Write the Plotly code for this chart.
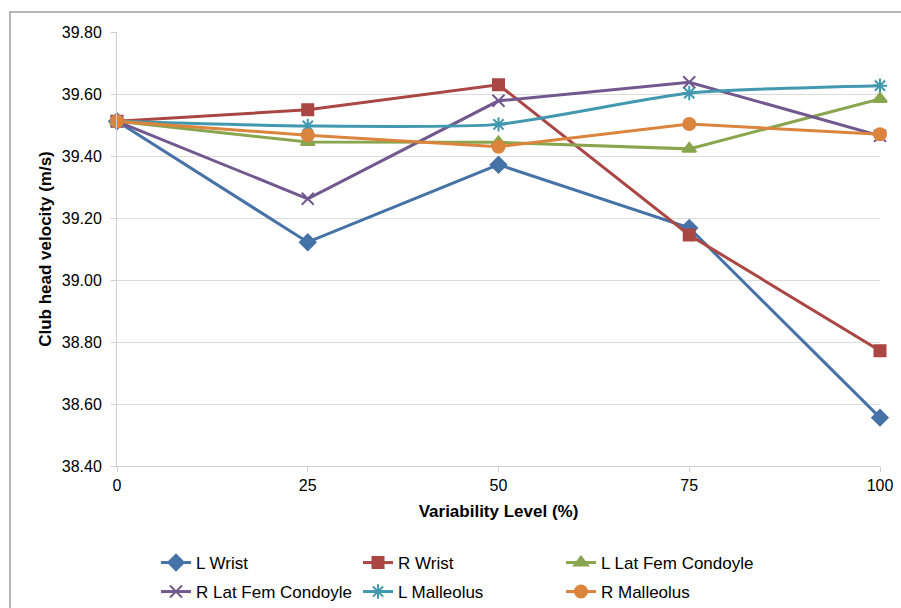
import plotly.graph_objects as go

levels = [0, 25, 50, 75, 100]
l_wrist = [39.512, 39.122, 39.372, 39.168, 38.556]
r_wrist = [39.512, 39.549, 39.630, 39.145, 38.772]
l_lat_fem = [39.512, 39.445, 39.444, 39.423, 39.584]
r_lat_fem = [39.512, 39.262, 39.578, 39.638, 39.465]
l_malleolus = [39.512, 39.497, 39.502, 39.603, 39.627]
r_malleolus = [39.512, 39.467, 39.430, 39.503, 39.470]

series = [
    ("L Wrist", l_wrist, "#4572A7", "diamond", 12, "linear"),
    ("R Wrist", r_wrist, "#AA4643", "square", 11, "linear"),
    ("L Lat Fem Condoyle", l_lat_fem, "#89A54E", "triangle-up", 12, "linear"),
    ("R Lat Fem Condoyle", r_lat_fem, "#71588F", "x-thin-open", 12, "linear"),
    ("L Malleolus", l_malleolus, "#4198AF", "asterisk-open", 12, "spline"),
    ("R Malleolus", r_malleolus, "#DB843D", "circle", 12, "linear"),
]

W, H = 901, 608
L, R, T, B = 117, 21, 32, 142
pw, ph = W - L - R, H - T - B

def px_x(p):
    return (p - L) / pw

def px_y(p):
    return (H - B - p) / ph

font = "Liberation Sans, Arial, sans-serif"

# legend slot positions (pixel left edge, pixel row centre)
legend_slots = [(156, 563), (358, 563), (561, 563),
                (156, 592), (358, 592), (561, 592)]

fig = go.Figure()
legend_layout = {}
for i, (name, vals, color, sym, size, shape) in enumerate(series):
    key = "legend" if i == 0 else f"legend{i+1}"
    fig.add_trace(go.Scatter(
        x=levels, y=vals, name=name, mode="lines+markers",
        line=dict(color=color, width=3, shape=shape, smoothing=0.6),
        marker=dict(symbol=sym, size=size, color=color,
                    line=dict(color=color, width=2)),
        cliponaxis=False, legend=key,
    ))
    lx, ly = legend_slots[i]
    legend_layout[key] = dict(
        x=px_x(lx), y=px_y(ly), xanchor="left", yanchor="middle",
        orientation="h", itemwidth=30, bgcolor="rgba(0,0,0,0)",
        font=dict(size=17, family=font, color="#000000"),
    )

fig.add_shape(type="rect", xref="paper", yref="paper",
              x0=px_x(10), x1=px_x(910), y0=px_y(620), y1=px_y(12),
              line=dict(color="#A0A0A0", width=1.5), fillcolor="rgba(0,0,0,0)",
              layer="below")

fig.update_layout(
    width=W, height=H,
    margin=dict(l=L, r=R, t=T, b=B, autoexpand=False),
    paper_bgcolor="white", plot_bgcolor="white",
    font=dict(family=font, size=16, color="#000000"),
    showlegend=True,
    xaxis=dict(
        range=[0, 100], tickvals=levels, ticktext=[str(v) for v in levels],
        showgrid=False, showline=True, linecolor="#D0D0D0", linewidth=1,
        ticks="outside", ticklen=5, tickcolor="#D0D0D0",
        tickfont=dict(size=16), zeroline=False,
        title=dict(text="<b>Variability Level (%)</b>", font=dict(size=17), standoff=11),
    ),
    yaxis=dict(
        range=[38.40, 39.80], dtick=0.2, tick0=38.40, tickformat=".2f",
        showgrid=True, gridcolor="#DCDCDC", gridwidth=1,
        showline=True, linecolor="#D0D0D0", linewidth=1,
        ticks="outside", ticklen=5, tickcolor="#D0D0D0",
        tickfont=dict(size=16), zeroline=False, ticklabelstandoff=6,
        title=dict(text="<b>Club head velocity (m/s)</b>", font=dict(size=17), standoff=5),
    ),
    **legend_layout,
)

fig.write_html(
    "out.html",
    config={"displayModeBar": False},
    post_script="document.body.style.margin='0';document.body.style.overflow='hidden';",
)
